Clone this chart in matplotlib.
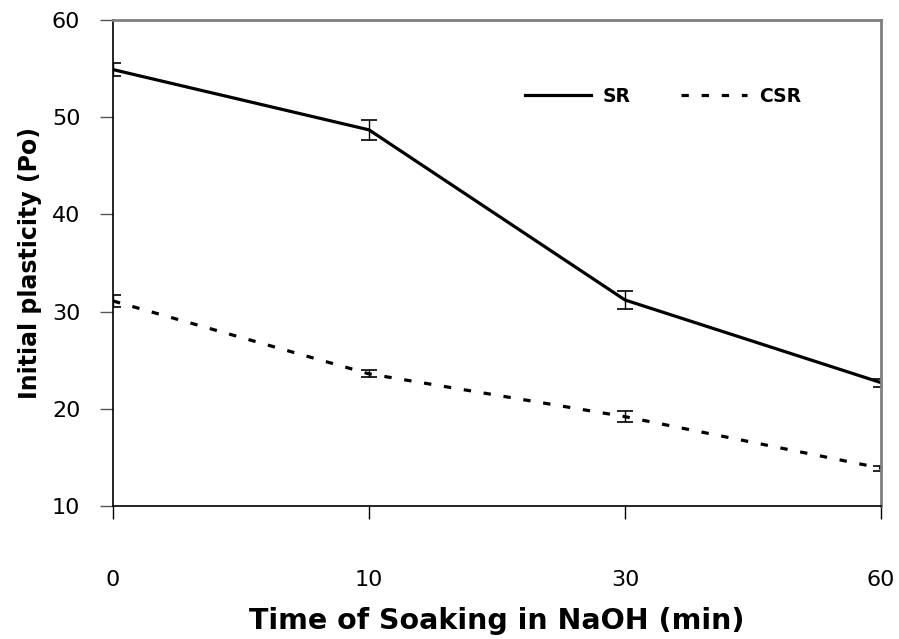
import numpy as np
import matplotlib.pyplot as plt
from matplotlib.lines import Line2D

plt.rcParams['font.family'] = ['DejaVu Sans']

# data
times = ['0', '10', '30', '60']
sr = [54.9, 48.7, 31.2, 22.7]
sr_err = [0.7, 1.05, 0.95, 0.4]
csr = [31.1, 23.6, 19.2, 13.9]
csr_err = [0.65, 0.35, 0.55, 0.25]

x = np.arange(len(times))
dash = (2.3, 4.0)

fig = plt.figure(figsize=(8.99, 6.39), dpi=100)
ax = fig.add_axes([0.1257, 0.208, 0.8543, 0.7607])

ax.errorbar(x, sr, yerr=sr_err, color='black', lw=2.3, ecolor='black',
            elinewidth=1, capsize=6, capthick=1.2)
line, _, _ = ax.errorbar(x, csr, yerr=csr_err, color='black', lw=2.3, ecolor='black',
                         elinewidth=1, capsize=6, capthick=1.2)
line.set_dashes(dash)
line.set_dash_capstyle('butt')

ax.set_xlim(0, 3)
ax.set_ylim(10, 60)
ax.set_xticks(x)
ax.set_xticklabels(times)
ax.set_yticks([10, 20, 30, 40, 50, 60])

for s in ['top', 'right']:
    ax.spines[s].set_color('#808080')
    ax.spines[s].set_linewidth(2)
ax.spines['left'].set_linewidth(1.2)
ax.spines['bottom'].set_linewidth(1.2)

ax.tick_params(axis='x', direction='out', length=9, width=1, pad=37, labelsize=16)
ax.tick_params(axis='y', direction='out', length=9.5, width=1, color='#555555',
               pad=14, labelsize=16)

ax.set_xlabel('Time of Soaking in NaOH (min)', fontsize=20.5, fontweight='bold', labelpad=12)
ax.set_ylabel('Initial plasticity (Po)', fontsize=17, fontweight='bold', labelpad=7)

h_sr = Line2D([], [], color='black', lw=2.3)
h_csr = Line2D([], [], color='black', lw=2.3, dashes=dash, dash_capstyle='butt')
ax.legend([h_sr, h_csr], ['SR', 'CSR'], ncol=2, frameon=False, loc='center left',
          bbox_to_anchor=(525 / 899, 1 - 96 / 639), bbox_transform=fig.transFigure,
          borderpad=0, borderaxespad=0, handlelength=3.5, columnspacing=2.7,
          handletextpad=0.65, prop={'weight': 'bold', 'size': 13.5})

fig.savefig('out.png', dpi=100)
